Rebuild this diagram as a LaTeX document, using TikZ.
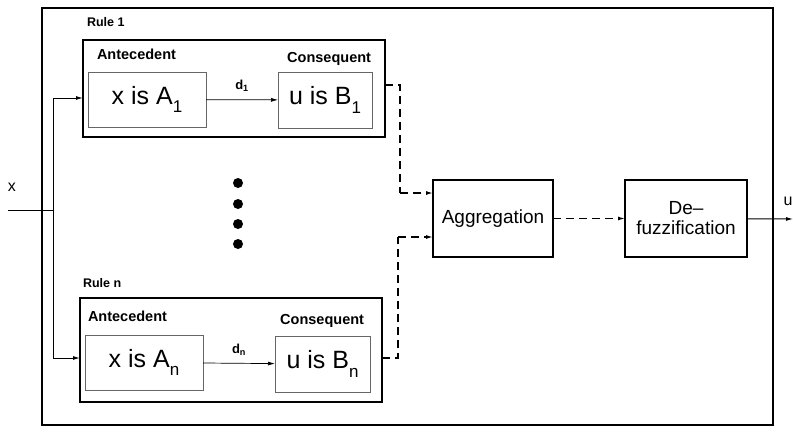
\documentclass[tikz,border=0pt]{standalone}
\usepackage{fontspec}
\setmainfont{Liberation Sans}
\usetikzlibrary{arrows.meta,calc}
\newcommand{\mysub}[1]{\raisebox{-0.35em}{\fontsize{17}{18}\selectfont #1}}
\begin{document}
\begin{tikzpicture}[x=1pt,y=-1pt,
  every node/.style={inner sep=0pt,outer sep=0pt},
  outerbox/.style={draw,line width=1.6pt},
  rulebox/.style={draw,line width=1.4pt},
  innerbox/.style={draw=black!60,line width=0.9pt,font=\fontsize{25}{28}\selectfont},
  procbox/.style={draw,line width=1.2pt},
  lbl/.style={font=\bfseries\fontsize{12.5}{14}\selectfont},
  hdr/.style={font=\bfseries\fontsize{14.5}{16}\selectfont},
  dlbl/.style={font=\bfseries\fontsize{13}{15}\selectfont},
  arr/.style={-{Latex[length=7pt,width=4pt]},line width=1pt},
  darr/.style={-{Latex[length=7pt,width=4pt]},line width=1.3pt,dash pattern=on 8pt off 5pt},
  dline/.style={line width=1.3pt,dash pattern=on 8pt off 5pt}]
\useasboundingbox (0,0) rectangle (793,439);
\fill[white] (0,0) rectangle (793,439);
% outer box
\node[outerbox,minimum width=731pt,minimum height=417pt] (outer) at (407.5,216.5) {};
% Rule 1
\node[rulebox,minimum width=302pt,minimum height=97pt] (r1) at (234,88.5) {};
\node[lbl,anchor=base west] (r1l) at (87,27) {Rule 1};
\node[hdr,anchor=base west] (a1l) at (97,59) {Antecedent};
\node[hdr,anchor=base east] (c1l) at (371,62) {Consequent};
\node[innerbox,minimum width=118pt,minimum height=55pt] (a1) at (147,99.5) {x is A\mysub{1}};
\node[innerbox,minimum width=94pt,minimum height=56pt] (b1) at (325,100) {u is B\mysub{1}};
\draw[arr,line width=0.7pt] (a1) -- node[above=8pt,dlbl]{d\textsubscript{1}} (b1);
% dots
\foreach \yy/\nm in {183/d1,204/d2,224/d3,244/d4}
  \fill (238,\yy) circle (5pt);
% Rule n
\node[rulebox,minimum width=302pt,minimum height=104pt] (rn) at (231,350) {};
\node[lbl,anchor=base west] (rnl) at (83,287) {Rule n};
\node[hdr,anchor=base west] (anl) at (88,321) {Antecedent};
\node[hdr,anchor=base east] (cnl) at (364,324) {Consequent};
\node[innerbox,minimum width=118pt,minimum height=55pt] (an) at (144,362.5) {x is A\mysub{n}};
\node[innerbox,minimum width=95pt,minimum height=56pt] (bn) at (322.5,364) {u is B\mysub{n}};
\draw[arr,line width=0.7pt] (an) -- node[above=8pt,dlbl]{d\textsubscript{n}} (bn);
% aggregation and defuzzification
\node[procbox,minimum width=120pt,minimum height=77pt,font=\fontsize{19}{22}\selectfont] (agg) at (493,218.5) {Aggregation};
\node[procbox,minimum width=122pt,minimum height=77pt,align=center,font=\fontsize{19}{20}\selectfont] (def) at (686,218.5) {De--\\fuzzification};
% input
\node[font=\fontsize{16}{18}\selectfont,anchor=base] (xl) at (12,191) {x};
\coordinate (xin) at (8,210);
\coordinate (jn) at (53,210);
\draw[line width=1pt] (xin) -- (jn);
\draw[arr] (jn) |- (r1.west |- 0,98);
\draw[arr] (jn) |- (rn.west |- 0,358);
% dashed to aggregation
\coordinate (t1) at (400,85);
\coordinate (tn) at (398,358);
\draw[dline] (r1.east |- t1) -- (t1) -- (t1 |- 0,193);
\draw[darr] (t1 |- 0,193) -- (agg.west |- 0,193);
\draw[dline] (rn.east |- tn) -- (tn) -- (tn |- 0,237);
\draw[darr] (tn |- 0,237) -- (agg.west |- 0,237);
\draw[darr] (agg) -- (def);
% output
\coordinate (uout) at (793,219);
\draw[arr] (def) -- (uout);
\node[font=\fontsize{16}{18}\selectfont,anchor=base] (ul) at (788,205) {u};
\end{tikzpicture}
\end{document}
